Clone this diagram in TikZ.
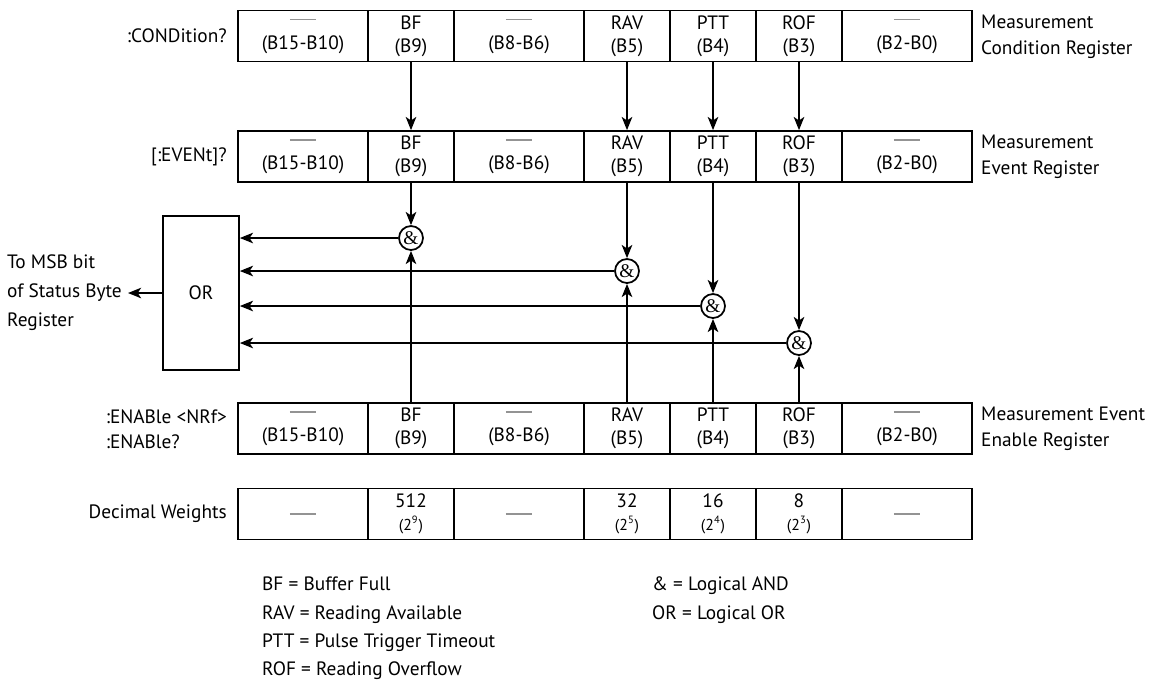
\documentclass[tikz,border=0pt]{standalone}
\usepackage{fontspec}
\setmainfont{PT Sans}
\newfontfamily\ampfont{Liberation Serif}
\usetikzlibrary{arrows.meta}
\newcommand{\blank}[1][3.6pt]{\textcolor{gray!85}{\rule[#1]{15pt}{0.8pt}}}

\begin{document}
\begin{tikzpicture}[
    x=0.02cm, y=-0.02cm,
    >={Stealth[length=7.5pt,width=6pt,inset=2pt]},
    font=\fontsize{11}{14}\selectfont,
    arr/.style={->, line width=1pt},
    cell/.style={draw, line width=1pt, minimum height=1.02cm, inner sep=0pt, align=center, font=\fontsize{11}{13}\selectfont},
    wide/.style={cell, minimum width=2.6cm},
    narrow/.style={cell, minimum width=1.72cm},
    gate/.style={circle, draw, line width=1pt, minimum size=0.48cm, inner sep=0pt, font=\ampfont\fontsize{11}{11}\selectfont},
    lbl/.style={align=left, font=\fontsize{11}{14.5}\selectfont},
    legend/.style={align=left, anchor=north west, font=\fontsize{11}{16}\selectfont}
]
\useasboundingbox (0,0) rectangle (1154,681);

% =========================================================
% REGISTERS (CONDITION, EVENT, ENABLE)
% =========================================================
\foreach \reg/\y in {cond/36, evt/156.5, enab/428.5}{
  \node[wide]   (\reg-1) at (303,\y) {\blank\\(B15-B10)};
  \node[narrow] (\reg-2) at (411,\y) {BF\\(B9)};
  \node[wide]   (\reg-3) at (519,\y) {\blank\\(B8-B6)};
  \node[narrow] (\reg-4) at (627,\y) {RAV\\(B5)};
  \node[narrow] (\reg-5) at (713,\y) {PTT\\(B4)};
  \node[narrow] (\reg-6) at (799,\y) {ROF\\(B3)};
  \node[wide]   (\reg-7) at (907,\y) {\blank\\(B2-B0)};
}

% ------------------- DECIMAL WEIGHTS -------------------
\node[wide]   (wt-1) at (303,514) {\blank[0pt]};
\node[narrow] (wt-2) at (411,514) {512\\{\small(2\textsuperscript{9})}};
\node[wide]   (wt-3) at (519,514) {\blank[0pt]};
\node[narrow] (wt-4) at (627,514) {32\\{\small(2\textsuperscript{5})}};
\node[narrow] (wt-5) at (713,514) {16\\{\small(2\textsuperscript{4})}};
\node[narrow] (wt-6) at (799,514) {8\\{\small(2\textsuperscript{3})}};
\node[wide]   (wt-7) at (907,514) {\blank[0pt]};

% ------------------- LABELS -------------------
\node[lbl, anchor=east] (condq) at (233,36) {:CONDition?};
\node[lbl, anchor=east] (evtq) at (233,156.5) {[:EVENt]?};
\node[lbl, anchor=east] (enabq) at (233,429) {:ENABle <NRf>\\:ENABle?};
\node[lbl, anchor=east] (wtq) at (233,514) {Decimal Weights};

\node[lbl, anchor=west] (condname) at (975,37) {Measurement\\Condition Register};
\node[lbl, anchor=west] (evtname) at (975,157) {Measurement\\Event Register};
\node[lbl, anchor=west] (enabname) at (975,429) {Measurement Event\\Enable Register};

% =========================================================
% AND GATES AND OR
% =========================================================
\node[draw, line width=1pt, minimum width=1.52cm, minimum height=3.08cm] (orgate) at (201,293) {OR};
\node[lbl, anchor=east, font=\fontsize{11}{16.5}\selectfont] (msb) at (128,293) {To MSB bit\\of Status Byte\\Register};
\draw[arr] (orgate) -- (msb);

\node[gate] (and-2) at (411,238) {\&};
\node[gate] (and-4) at (627,271) {\&};
\node[gate] (and-5) at (713,306) {\&};
\node[gate] (and-6) at (799,343) {\&};

\foreach \c in {2,4,5,6}{
  \draw[arr] (cond-\c) -- (evt-\c);
  \draw[arr] (evt-\c) -- (and-\c);
  \draw[arr] (enab-\c) -- (and-\c);
  \draw[arr] (and-\c) -- (and-\c -| orgate.east);
}

% ------------------- LEGEND -------------------
\node[legend] (defs) at (256,571) {BF = Buffer Full\\RAV = Reading Available\\PTT = Pulse Trigger Timeout\\ROF = Reading Overflow};
\node[legend] (ops) at (646,571) {\& = Logical AND\\OR = Logical OR};

\end{tikzpicture}
\end{document}
